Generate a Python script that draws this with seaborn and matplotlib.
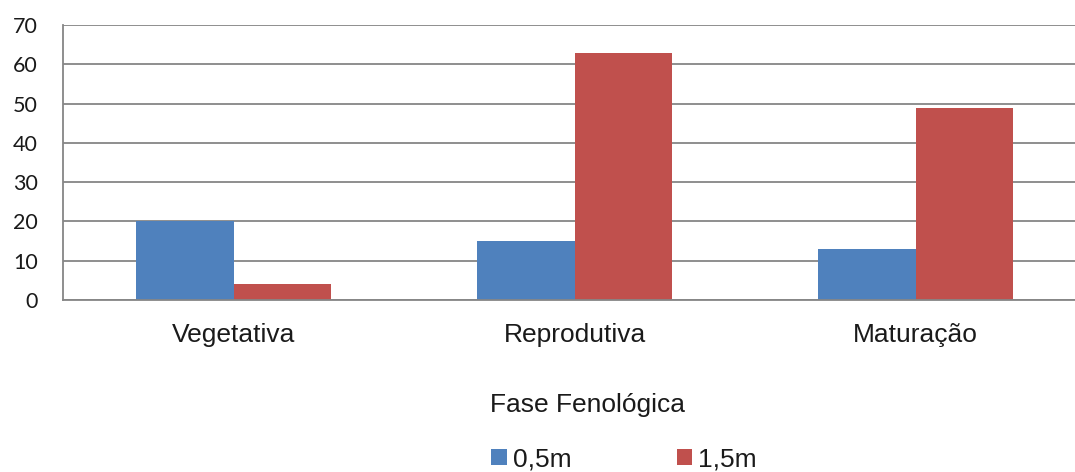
import matplotlib
matplotlib.use("Agg")
import matplotlib.pyplot as plt
import seaborn as sns
import pandas as pd
from matplotlib.patches import Patch

# Data
fases = ["Vegetativa", "Reprodutiva", "Maturação"]
alturas = ["0,5m", "1,5m"]
valores_05 = [20, 15, 13]
valores_15 = [4, 63, 49]
yticks = [0, 10, 20, 30, 40, 50, 60, 70]

df = pd.DataFrame({
    "Fase": fases * 2,
    "Altura": [alturas[0]] * 3 + [alturas[1]] * 3,
    "Valor": valores_05 + valores_15,
})

cores = {"0,5m": "#4F81BD", "1,5m": "#C0504D"}
grid_color = "#868686"

sns.set_theme(style="white")
plt.rcParams["font.family"] = ["Liberation Sans", "DejaVu Sans"]

W, H = 1075, 472
fig = plt.figure(figsize=(W / 100, H / 100), dpi=100)
# plot area runs slightly past the right border of the figure
ax = fig.add_axes([63 / W, 1 - 300 / H, (1086 - 63) / W, 275 / H])

sns.barplot(data=df, x="Fase", y="Valor", hue="Altura", order=fases,
            hue_order=alturas, palette=cores, width=0.57, gap=0,
            saturation=1, legend=False, ax=ax, edgecolor="none")

ax.set_ylim(0, 70)
ax.set_yticks(yticks)
ax.set_yticklabels([str(v) for v in yticks], family=["Lato", "DejaVu Sans"])
ax.yaxis.grid(True, color=grid_color, linewidth=1.3)
ax.set_axisbelow(True)
for s in ["top", "right"]:
    ax.spines[s].set_visible(False)
for s in ["left", "bottom"]:
    ax.spines[s].set_color(grid_color)
    ax.spines[s].set_linewidth(1.3)

ax.tick_params(axis="y", length=0, pad=18, labelsize=15.5, labelcolor="#1a1a1a")
ax.tick_params(axis="x", length=0, pad=16.5, labelsize=19, labelcolor="#1a1a1a")
ax.set_ylabel("")
ax.set_xlabel("Fase Fenológica", fontsize=19, labelpad=33, color="#1a1a1a")
ax.xaxis.label.set_position(((587.5 - 63) / (1086 - 63), 0))

handles = [Patch(facecolor=cores[a], edgecolor="none") for a in alturas]
leg = fig.legend(handles, alturas, loc="center", bbox_to_anchor=(624 / W, 1 - 459 / H),
                 ncol=2, frameon=False, fontsize=19, handlelength=0.57, handleheight=0.57,
                 handletextpad=0.23, columnspacing=4.0, borderpad=0, borderaxespad=0)
for t in leg.get_texts():
    t.set_color("#1a1a1a")

fig.savefig("out.png", dpi=100)
